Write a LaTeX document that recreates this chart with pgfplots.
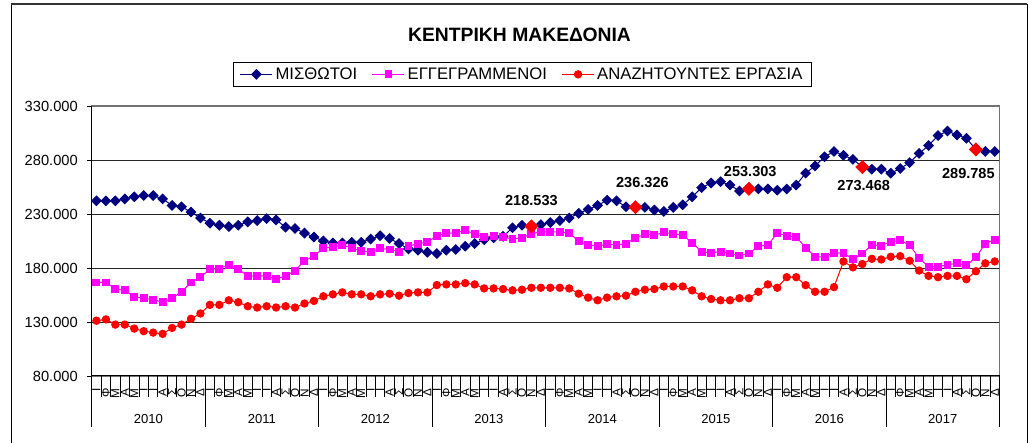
\documentclass[border=0pt]{standalone}
\usepackage{fontspec}
\setmainfont{Liberation Sans}
\usepackage{pgfplots}
\pgfplotsset{compat=1.18}
\definecolor{navyb}{RGB}{0,0,128}
\definecolor{magb}{RGB}{255,0,255}
\definecolor{redb}{RGB}{255,0,0}
\begin{document}
\begin{tikzpicture}
\useasboundingbox (0,0) rectangle (771.75pt,332.25pt);
\begin{scope}[x=0.75pt,y=-0.75pt,shift={(0pt,332.25pt)}]
 \draw[black, line width=0.75pt] (11,450) -- (11,5) -- (1027,5) -- (1027,450);
 \draw[black!80, line width=1.5pt] (11,4.5) -- (1027,4.5);
 \node[font=\bfseries\fontsize{14.5}{17}\selectfont] at (519.5,35) {ΚΕΝΤΡΙΚΗ ΜΑΚΕΔΟΝΙΑ};
\end{scope}
\begin{axis}[at={(68.775pt,50.25pt)}, anchor=south west, scale only axis,
 width=680.85pt, height=202.5pt, clip=false,
 xmin=0, xmax=96, ymin=80000, ymax=330000,
 scaled y ticks=false,
 axis line style={draw=black!55, line width=0.9pt},
 ymajorgrids, grid style={black!85, line width=0.6pt},
 ytick={80000,130000,180000,230000,280000,330000},
 yticklabels={80.000,130.000,180.000,230.000,280.000,330.000},
 yticklabel style={font=\fontsize{11}{13}\selectfont, inner sep=0pt, xshift=-6.5pt},
 tick align=outside, major tick length=3.75pt, ytick pos=left, xtick pos=bottom,
 ytick style={black, line width=0.6pt},
 xtick={0.5,1.5,...,95.5},
 xtick style={draw=none},
 xticklabels={Ι,Φ,Μ,Α,Μ,Ι,Ι,Α,Σ,Ο,Ν,Δ,Ι,Φ,Μ,Α,Μ,Ι,Ι,Α,Σ,Ο,Ν,Δ,Ι,Φ,Μ,Α,Μ,Ι,Ι,Α,Σ,Ο,Ν,Δ,Ι,Φ,Μ,Α,Μ,Ι,Ι,Α,Σ,Ο,Ν,Δ,Ι,Φ,Μ,Α,Μ,Ι,Ι,Α,Σ,Ο,Ν,Δ,Ι,Φ,Μ,Α,Μ,Ι,Ι,Α,Σ,Ο,Ν,Δ,Ι,Φ,Μ,Α,Μ,Ι,Ι,Α,Σ,Ο,Ν,Δ,Ι,Φ,Μ,Α,Μ,Ι,Ι,Α,Σ,Ο,Ν,Δ},
 xticklabel style={yshift=-5.5pt, rotate=90, anchor=east, inner sep=0pt, font=\fontsize{8.8}{10}\selectfont},
 legend style={at={(0.4746,1.0704)}, anchor=south, legend columns=3, draw=black, line width=0.75pt,
   font=\fontsize{12.5}{15}\selectfont, inner xsep=5pt, inner ysep=2pt,
   /tikz/every even column/.append style={column sep=9pt}},
 legend image code/.code={\draw[mark repeat=2,mark phase=2,#1] plot coordinates {(0pt,0pt) (12pt,0pt) (24pt,0pt)};},
]
\addplot[navyb, line width=0.75pt, mark=square*, mark size=2.5pt, mark options={rotate=45, fill=navyb, draw=navyb}] coordinates {
(0.5,242200) (1.5,242200) (2.5,242200) (3.5,244000) (4.5,245900) (5.5,247100) (6.5,247100) (7.5,244000) (8.5,237900) (9.5,236700) (10.5,231800) (11.5,226300)
(12.5,221500) (13.5,219600) (14.5,218400) (15.5,219600) (16.5,222700) (17.5,223900) (18.5,225700) (19.5,224500) (20.5,217800) (21.5,216600) (22.5,212300) (23.5,208700)
(24.5,205000) (25.5,203200) (26.5,203200) (27.5,203800) (28.5,203800) (29.5,206800) (30.5,209900) (31.5,207400) (32.5,202600) (33.5,197700) (34.5,196500) (35.5,194600)
(36.5,193400) (37.5,196500) (38.5,197100) (39.5,200100) (40.5,202600) (41.5,206200) (42.5,208000) (43.5,209300) (44.5,217200) (45.5,219600) (46.5,218533) (47.5,220200)
(48.5,222100) (49.5,223900) (50.5,226300) (51.5,230600) (52.5,234300) (53.5,237900) (54.5,242800) (55.5,242200) (56.5,236700) (57.5,236326) (58.5,236100) (59.5,233700)
(60.5,232400) (61.5,236100) (62.5,238500) (63.5,245900) (64.5,254400) (65.5,258700) (66.5,259900) (67.5,256800) (68.5,251300) (69.5,253303) (70.5,253200) (71.5,253200)
(72.5,252000) (73.5,253200) (74.5,256800) (75.5,267800) (76.5,274500) (77.5,283000) (78.5,287900) (79.5,284300) (80.5,280600) (81.5,273468) (82.5,271500) (83.5,271500)
(84.5,267800) (85.5,272100) (86.5,277600) (87.5,286100) (88.5,293400) (89.5,302600) (90.5,306800) (91.5,303200) (92.5,300100) (93.5,289785) (94.5,287900) (95.5,287900)
};
\addlegendentry{ΜΙΣΘΩΤΟΙ}
\addplot[magb, line width=0.75pt, mark=square*, mark size=2.6pt, mark options={fill=magb, draw=magb}] coordinates {
(0.5,166600) (1.5,166600) (2.5,160500) (3.5,159300) (4.5,153200) (5.5,152000) (6.5,150700) (7.5,148300) (8.5,152000) (9.5,158000) (10.5,166600) (11.5,171500)
(12.5,178800) (13.5,179400) (14.5,183000) (15.5,178800) (16.5,172700) (17.5,172700) (18.5,172700) (19.5,169600) (20.5,172700) (21.5,177600) (22.5,186700) (23.5,191000)
(24.5,198300) (25.5,199500) (26.5,201300) (27.5,198300) (28.5,195900) (29.5,194600) (30.5,198300) (31.5,197100) (32.5,195200) (33.5,200100) (34.5,202600) (35.5,203800)
(36.5,209900) (37.5,212300) (38.5,212300) (39.5,214800) (40.5,211700) (41.5,208700) (42.5,209900) (43.5,208700) (44.5,206800) (45.5,208000) (46.5,211700) (47.5,213500)
(48.5,213500) (49.5,213500) (50.5,212300) (51.5,205000) (52.5,201300) (53.5,200100) (54.5,202000) (55.5,201300) (56.5,202600) (57.5,208000) (58.5,211100) (59.5,210500)
(60.5,212900) (61.5,211700) (62.5,210500) (63.5,203200) (64.5,195200) (65.5,194000) (66.5,195200) (67.5,193400) (68.5,191600) (69.5,193400) (70.5,200100) (71.5,201300)
(72.5,212300) (73.5,209900) (74.5,208700) (75.5,198900) (76.5,190400) (77.5,190400) (78.5,194000) (79.5,194000) (80.5,187900) (81.5,193400) (82.5,201300) (83.5,200700)
(84.5,204400) (85.5,205600) (86.5,201300) (87.5,189100) (88.5,181200) (89.5,181200) (90.5,183000) (91.5,184300) (92.5,182400) (93.5,189800) (94.5,202600) (95.5,206200)
};
\addlegendentry{ΕΓΓΕΓΡΑΜΜΕΝΟΙ}
\addplot[redb, line width=0.75pt, mark=*, mark size=2.75pt, mark options={fill=redb, draw=redb}] coordinates {
(0.5,131200) (1.5,132400) (2.5,127600) (3.5,127600) (4.5,123900) (5.5,121500) (6.5,120200) (7.5,119000) (8.5,124500) (9.5,127600) (10.5,133000) (11.5,137900)
(12.5,145900) (13.5,145900) (14.5,150100) (15.5,148300) (16.5,144600) (17.5,143400) (18.5,144600) (19.5,143400) (20.5,144600) (21.5,143400) (22.5,147100) (23.5,149500)
(24.5,153800) (25.5,155600) (26.5,157400) (27.5,155600) (28.5,155600) (29.5,153800) (30.5,155600) (31.5,156200) (32.5,154400) (33.5,156800) (34.5,157400) (35.5,157400)
(36.5,164200) (37.5,164800) (38.5,164800) (39.5,166000) (40.5,164800) (41.5,161100) (42.5,161100) (43.5,160500) (44.5,159300) (45.5,159900) (46.5,161700) (47.5,161700)
(48.5,161700) (49.5,161700) (50.5,161100) (51.5,156200) (52.5,152600) (53.5,150100) (54.5,152600) (55.5,153800) (56.5,154400) (57.5,158000) (58.5,159900) (59.5,160500)
(60.5,162900) (61.5,162900) (62.5,162900) (63.5,159300) (64.5,153800) (65.5,151300) (66.5,150100) (67.5,150100) (68.5,152000) (69.5,152000) (70.5,158000) (71.5,164800)
(72.5,161700) (73.5,171500) (74.5,171500) (75.5,164100) (76.5,158000) (77.5,158000) (78.5,162300) (79.5,186100) (80.5,180600) (81.5,183700) (82.5,188500) (83.5,187900)
(84.5,190400) (85.5,191000) (86.5,186700) (87.5,177600) (88.5,172700) (89.5,171500) (90.5,172700) (91.5,172700) (92.5,169600) (93.5,177000) (94.5,184300) (95.5,186100)
};
\addlegendentry{ΑΝΑΖΗΤΟΥΝΤΕΣ ΕΡΓΑΣΙΑ}
\addplot[forget plot, only marks, mark=square*, mark size=3.5pt, mark options={rotate=45, fill=redb, draw=redb}] coordinates {
(46.5,218533) (57.5,236326) (69.5,253303) (81.5,273468) (93.5,289785)};
% axis decorations
\draw[black, line width=0.75pt] (rel axis cs:0,1) -- (rel axis cs:0,0) -- (rel axis cs:1,0);
\pgfplotsinvokeforeach{1,...,95}{\draw[black, line width=0.6pt] (axis cs:#1,80000) -- ++(0pt,-15.75pt);}
\pgfplotsinvokeforeach{0,12,24,36,48,60,72,84,96}{\draw[black, line width=0.75pt] (axis cs:#1,80000) -- ++(0pt,-38.25pt);}
\node[font=\fontsize{9.8}{12}\selectfont, yshift=-32.25pt] at (axis cs:6,80000) {2010};
\node[font=\fontsize{9.8}{12}\selectfont, yshift=-32.25pt] at (axis cs:18,80000) {2011};
\node[font=\fontsize{9.8}{12}\selectfont, yshift=-32.25pt] at (axis cs:30,80000) {2012};
\node[font=\fontsize{9.8}{12}\selectfont, yshift=-32.25pt] at (axis cs:42,80000) {2013};
\node[font=\fontsize{9.8}{12}\selectfont, yshift=-32.25pt] at (axis cs:54,80000) {2014};
\node[font=\fontsize{9.8}{12}\selectfont, yshift=-32.25pt] at (axis cs:66,80000) {2015};
\node[font=\fontsize{9.8}{12}\selectfont, yshift=-32.25pt] at (axis cs:78,80000) {2016};
\node[font=\fontsize{9.8}{12}\selectfont, yshift=-32.25pt] at (axis cs:90,80000) {2017};
% data labels
\node[font=\bfseries\fontsize{10.9}{13}\selectfont, yshift=19.5pt] at (axis cs:46.5,218533) {218.533};
\node[font=\bfseries\fontsize{10.9}{13}\selectfont, xshift=5.25pt, yshift=18.75pt] at (axis cs:57.5,236326) {236.326};
\node[font=\bfseries\fontsize{10.9}{13}\selectfont, xshift=1pt, yshift=13.3pt] at (axis cs:69.5,253303) {253.303};
\node[font=\bfseries\fontsize{10.9}{13}\selectfont, xshift=1pt, yshift=-13.5pt] at (axis cs:81.5,273468) {273.468};
\node[font=\bfseries\fontsize{10.9}{13}\selectfont, xshift=-5.6pt, yshift=-18pt] at (axis cs:93.5,289785) {289.785};
\end{axis}
\end{tikzpicture}
\end{document}
